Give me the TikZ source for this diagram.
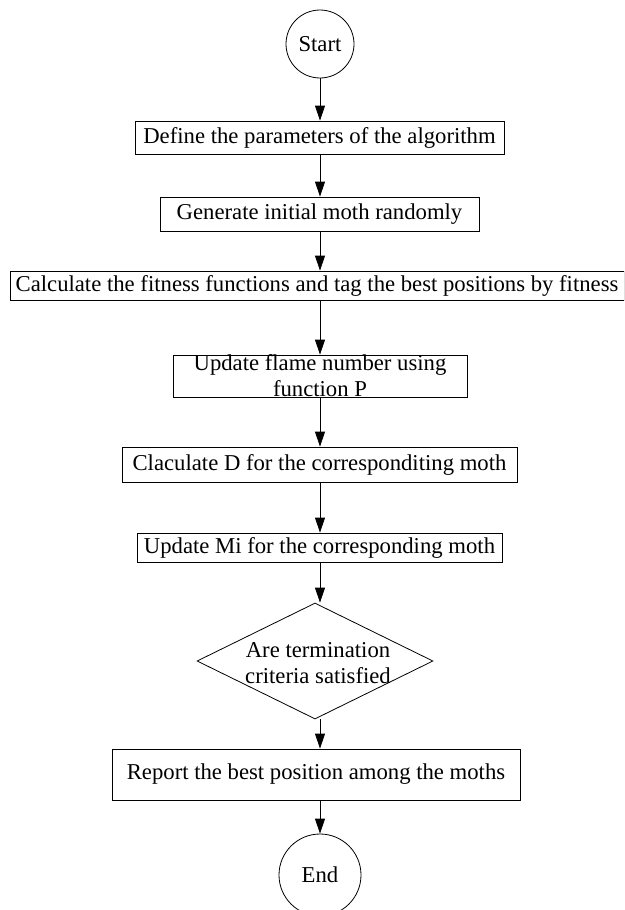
\documentclass[tikz,border=0pt]{standalone}
\usepackage{fontspec}
\setmainfont{Liberation Serif}
\usetikzlibrary{arrows.meta,shapes.geometric}
\begin{document}
\begin{tikzpicture}[x=1pt,y=-1pt,
  every node/.style={font=\fontsize{22.7}{26}\selectfont},
  box/.style={draw,line width=0.8pt,rectangle,inner sep=0pt},
  term/.style={draw,line width=0.8pt,circle,inner sep=0pt},
  dec/.style={draw,line width=0.8pt,diamond,inner sep=0pt,minimum width=236pt,minimum height=116pt},
  arr/.style={draw,line width=0.8pt,-{Triangle[length=15pt,width=10pt]}}]
\useasboundingbox (0,0) rectangle (624,910);
\clip (0,0) rectangle (624,910);
\node[term,minimum size=68pt] (start) at (320,44) {Start};
\node[box,minimum width=369pt,minimum height=33pt] (b1) at (319.5,137.5) {Define the parameters of the algorithm};
\node[box,minimum width=319pt,minimum height=34pt] (b2) at (319.5,214) {Generate initial moth randomly};
\node[box,minimum width=614pt,minimum height=29pt] (b3) at (317,285.5) {Calculate the fitness functions and tag the best positions by fitness};
\node[box,minimum width=294pt,minimum height=42pt] (b4) at (320,376) {};
\node[align=center,inner sep=0pt] (b4t) at (320,376) {Update flame number using\\function P};
\node[box,minimum width=395pt,minimum height=35pt] (b5) at (319.5,464.5) {Claculate D for the corresponditing moth};
\node[box,minimum width=365pt,minimum height=29pt] (b6) at (319.5,547.5) {Update Mi for the corresponding moth};
\node[dec] (d) at (315,661) {};
\node[align=center,inner sep=0pt] (dt) at (318,663) {Are termination\\criteria satisfied};
\node[box,minimum width=408pt,minimum height=51pt] (b7) at (316,774.5) {Report the best position among the moths};
\node[term,minimum size=82pt] (end) at (320,875) {End};
\draw[arr] (start) -- (start|-b1.north);
\draw[arr] (b1.south-|start) -- (start|-b2.north);
\draw[arr] (b2.south-|start) -- (start|-b3.north);
\draw[arr] (b3.south-|start) -- (start|-b4.north);
\draw[arr] (b4.south-|start) -- (start|-b5.north);
\draw[arr] (b5.south-|start) -- (start|-b6.north);
\draw[arr] (b6.south-|start) -- (start|-d.north);
\draw[arr] (d.south-|start) -- (start|-b7.north);
\draw[arr] (b7.south-|start) -- (end);
\end{tikzpicture}
\end{document}
